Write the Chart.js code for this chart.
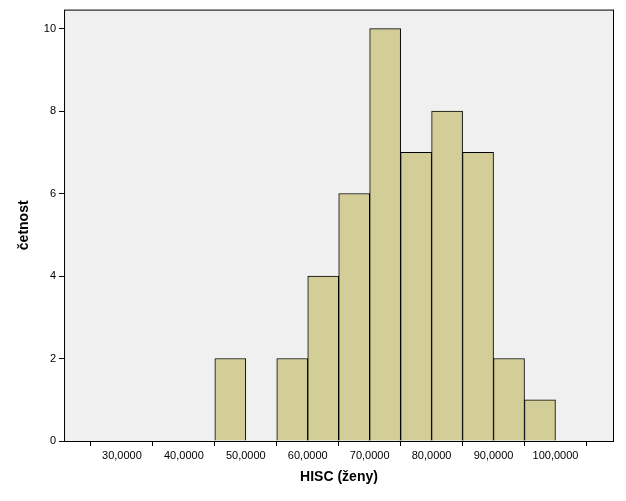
<!DOCTYPE html>
<html>
<head>
<meta charset="utf-8">
<script src="https://cdn.jsdelivr.net/npm/chart.js@4.4.0/dist/chart.umd.min.js"></script>
<style>
  body { margin: 0; background: #fff; }
  #wrap { width: 626px; height: 501px; }
</style>
</head>
<body>
<div id="wrap"><canvas id="hist" width="626" height="501"></canvas></div>
<script>
// bin centres (HISC) and counts
const binCenters = [32500, 37500, 42500, 47500, 52500, 57500, 62500, 67500, 72500, 77500, 82500, 87500, 92500, 97500];
const counts     = [0, 0, 0, 2, 0, 2, 4, 6, 10, 7, 8, 7, 2, 1];
const xTicks = [30000, 40000, 50000, 60000, 70000, 80000, 90000, 100000];
const yTicks = [0, 2, 4, 6, 8, 10];

const plotBg = {
    id: 'plotBg',
    beforeDraw(chart) {
        const a = chart.chartArea, ctx = chart.ctx;
        ctx.save();
        ctx.fillStyle = '#f0f0f0';
        ctx.fillRect(a.left, a.top, a.right - a.left, a.bottom - a.top);
        ctx.restore();
    },
    afterDraw(chart) {
        const a = chart.chartArea, ctx = chart.ctx;
        ctx.save();
        ctx.strokeStyle = '#000';
        ctx.lineWidth = 1;
        ctx.strokeRect(a.left + 0.5, a.top + 0.5, a.right - a.left - 1, a.bottom - a.top);
        ctx.restore();
    }
};

new Chart(document.getElementById('hist'), {
    type: 'bar',
    data: {
        datasets: [{
            data: binCenters.map((x, i) => ({ x: x, y: counts[i] })),
            backgroundColor: '#d3ce97',
            borderColor: '#000',
            borderWidth: 1,
            barPercentage: 1,
            categoryPercentage: 1,
            borderSkipped: 'bottom'
        }]
    },
    options: {
        responsive: false,
        animation: false,
        layout: { padding: { top: 8, right: 12, left: 12, bottom: 11 } },
        plugins: { legend: { display: false }, tooltip: { enabled: false } },
        scales: {
            x: {
                type: 'linear',
                min: 26200,
                max: 103900,
                afterBuildTicks: s => { s.ticks = xTicks.map(v => ({ value: v })); },
                grid: { display: true, drawOnChartArea: false, drawTicks: true, tickLength: 5, color: '#000' },
                border: { display: false },
                ticks: {
                    color: '#000',
                    font: { family: 'Arial, Liberation Sans', size: 11 },
                    maxRotation: 0,
                    callback: v => (v / 1000).toFixed(0) + ',0000'
                },
                title: {
                    display: true, text: 'HISC (ženy)', color: '#000',
                    font: { family: 'Arial, Liberation Sans', size: 14, weight: 'bold' }
                }
            },
            y: {
                min: 0,
                max: 10.46,
                afterBuildTicks: s => { s.ticks = yTicks.map(v => ({ value: v })); },
                grid: { display: true, drawOnChartArea: false, drawTicks: true, tickLength: 5, color: '#000' },
                border: { display: false },
                ticks: {
                    color: '#000',
                    font: { family: 'Arial, Liberation Sans', size: 11 }
                },
                title: {
                    display: true, text: 'četnost', color: '#000',
                    padding: { top: 4, bottom: 8 },
                    font: { family: 'Arial, Liberation Sans', size: 14, weight: 'bold' }
                }
            }
        }
    },
    plugins: [plotBg]
});
</script>
</body>
</html>
